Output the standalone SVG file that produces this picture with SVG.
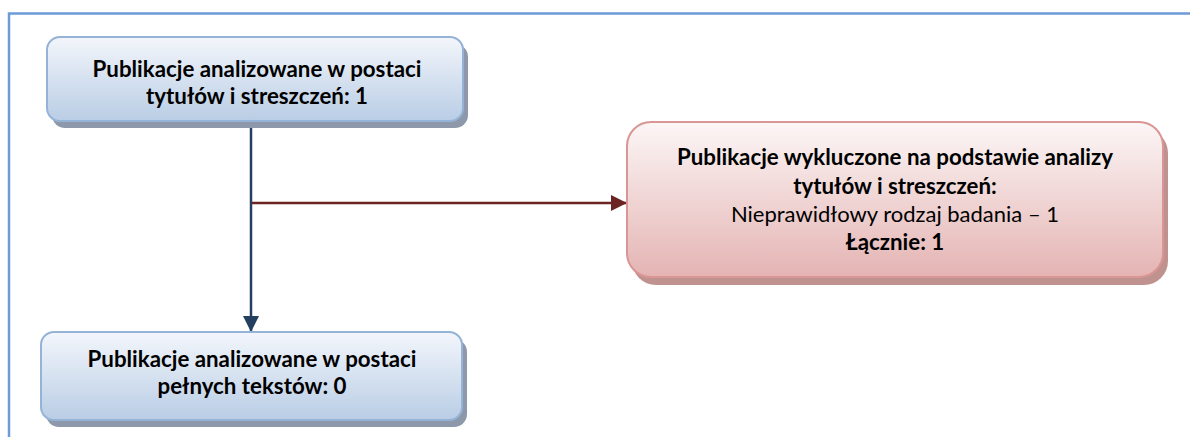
<svg xmlns="http://www.w3.org/2000/svg" width="1190" height="437" viewBox="0 0 1190 437">
<defs>
<linearGradient id="gBlue" x1="0" y1="0" x2="0" y2="1">
<stop offset="0" stop-color="#f3f6fb"/>
<stop offset="1" stop-color="#b9cde5"/>
</linearGradient>
<linearGradient id="gRed" x1="0" y1="0" x2="0" y2="1">
<stop offset="0" stop-color="#fcf6f6"/>
<stop offset="1" stop-color="#e4b4b3"/>
</linearGradient>
<marker id="aBlue" viewBox="0 0 16 16" refX="16" refY="8" markerWidth="16" markerHeight="16" markerUnits="userSpaceOnUse" orient="auto">
<path d="M0,0 L16,8 L0,16 Z" fill="#243f60"/>
</marker>
<marker id="aRed" viewBox="0 0 16 16" refX="16" refY="8" markerWidth="16" markerHeight="16" markerUnits="userSpaceOnUse" orient="auto">
<path d="M0,0 L16,8 L0,16 Z" fill="#6b2422"/>
</marker>
</defs>
<style>
text{font-family:Lato,"Liberation Sans",sans-serif;font-size:22px;fill:#000;text-anchor:middle}
.b{font-weight:bold;font-size:22.3px}
.shB{fill:#8d99aa}
.shR{fill:#c0928f}
.boxB{fill:url(#gBlue);stroke:#95b3d7;stroke-width:2}
.boxR{fill:url(#gRed);stroke:#d99694;stroke-width:2}
</style>
<path d="M9,437 V13.5 H1190" fill="none" stroke="#6d9bd8" stroke-width="2.5"/>
<g id="connectors">
<line x1="251" y1="121" x2="251" y2="332" stroke="#243f60" stroke-width="2.5" marker-end="url(#aBlue)"/>
<line x1="252" y1="203" x2="627" y2="203" stroke="#6b2422" stroke-width="2.5" marker-end="url(#aRed)"/>
</g>
<g id="node1">
<rect class="shB" x="52" y="44" width="416" height="84" rx="13"/>
<rect class="boxB" x="47" y="37" width="416" height="84" rx="13"/>
<text class="b" x="257" y="77">Publikacje analizowane w postaci</text>
<text class="b" x="257" y="104">tytułów i streszczeń: 1</text>
</g>
<g id="node2">
<rect class="shR" x="632" y="129" width="536" height="156" rx="24"/>
<rect class="boxR" x="627" y="122" width="536" height="155" rx="24"/>
<text class="b" x="895" y="165">Publikacje wykluczone na podstawie analizy</text>
<text class="b" x="895" y="194">tytułów i streszczeń:</text>
<text x="895" y="222">Nieprawidłowy rodzaj badania – 1</text>
<text class="b" x="895" y="250">Łącznie: 1</text>
</g>
<g id="node3">
<rect class="shB" x="46" y="339" width="421" height="88" rx="13"/>
<rect class="boxB" x="41" y="332" width="421" height="88" rx="13"/>
<text class="b" x="252" y="367">Publikacje analizowane w postaci</text>
<text class="b" x="252" y="394">pełnych tekstów: 0</text>
</g>
</svg>
